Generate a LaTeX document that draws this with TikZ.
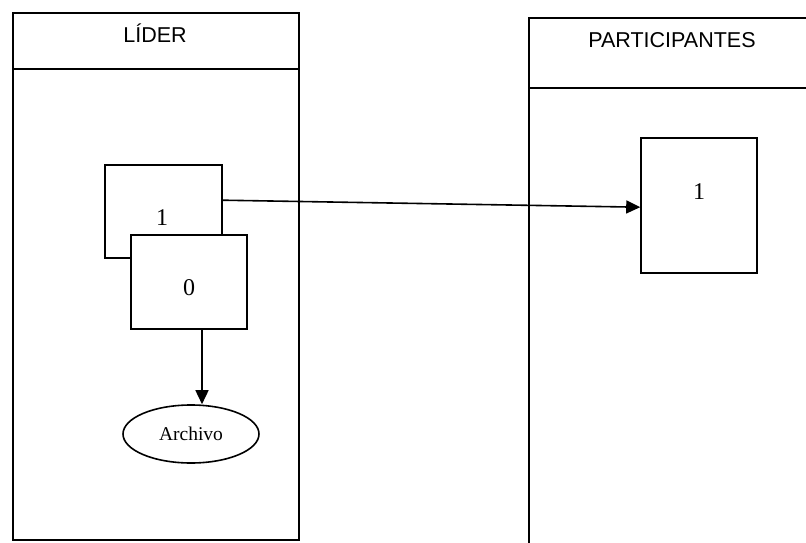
\documentclass[tikz,border=0pt]{standalone}
\usepackage{fontspec}
\setmainfont{Liberation Serif}
\newfontfamily\headfont{Liberation Sans}
\usetikzlibrary{arrows.meta,shapes.geometric,calc}
\tikzset{
  ln/.style={line width=1.6pt, black},
  lanebox/.style={ln, draw, rectangle, inner sep=0pt, anchor=north west},
  head/.style={font=\headfont\fontsize{21.5}{24}\selectfont, inner sep=0pt},
  num/.style={font=\fontsize{24}{28}\selectfont, inner sep=0pt},
  task/.style={ln, draw, fill=white, rectangle, inner sep=0pt},
  store/.style={ln, draw, fill=white, ellipse, inner sep=0pt, font=\fontsize{19.5}{22}\selectfont},
  flow/.style={ln, -{Triangle[length=14pt,width=13pt]}}
}
\begin{document}
\begin{tikzpicture}[x=1pt,y=-1pt]
  \useasboundingbox (0,0) rectangle (806,543);
  % lane: LIDER
  \node[lanebox, minimum width=286pt, minimum height=527pt] (laneL) at (12,12) {};
  \draw[ln] (12,69) -- (298,69);
  \node[head] (hL) at (155,33) {LÍDER};
  % lane: PARTICIPANTES (open to the right and below)
  \coordinate (rTL) at (529,18);
  \draw[ln] (806,18) -- (rTL) -- (529,543);
  \draw[ln] (529,88) -- (806,88);
  \node[head] (hR) at (672,40) {PARTICIPANTES};
  % tasks
  \node[task, minimum width=117pt, minimum height=93pt] (b1) at (163.5,211.5) {};
  \node[num] (t1) at (162,218) {1};
  \node[task, minimum width=116pt, minimum height=94pt] (b0) at (189,282) {};
  \node[num] (t0) at (189,288) {0};
  \node[task, minimum width=116pt, minimum height=135pt] (p1) at (699,205.5) {};
  \node[num] (tp1) at (699,192) {1};
  % data store
  \node[store, minimum width=136pt, minimum height=58pt] (arch) at (191,434) {Archivo};
  % connectors
  \draw[flow] ($(b1.north east)+(0,36)$) -- ($(p1.north west)+(0,70)$);
  \draw[flow] ($(b0.south)+(13,0)$) -- ($(arch.north)+(11,0)$);
\end{tikzpicture}
\end{document}
